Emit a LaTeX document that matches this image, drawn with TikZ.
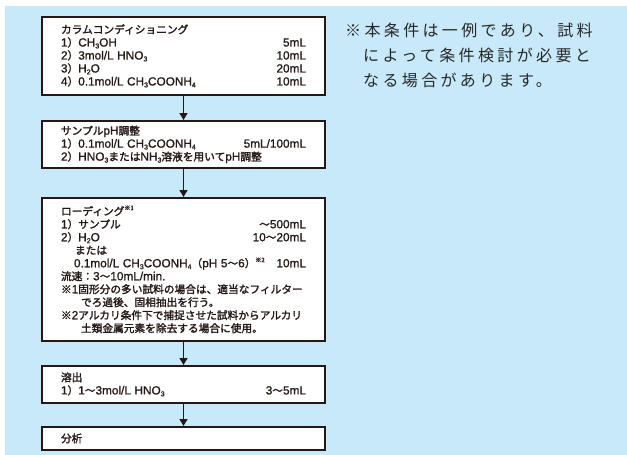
\documentclass[tikz,border=0pt]{standalone}
\usepackage{fontspec}
\setmainfont{Noto Sans CJK JP}
\newfontfamily\jpbox{Noto Sans CJK JP}[FakeBold=1.8]
\newfontfamily\ltfont{Liberation Sans}[FakeBold=1]
\usetikzlibrary{arrows.meta}
\definecolor{bgblue}{RGB}{199,233,249}
\definecolor{boxline}{RGB}{35,24,21}
\definecolor{notegray}{RGB}{40,40,40}
\newcommand{\lt}[1]{{\ltfont\fontsize{11.8pt}{13pt}\selectfont #1}}
\newcommand{\chsub}[1]{\raisebox{-0.3ex}{\fontsize{7pt}{7pt}\selectfont #1}}
\newcommand{\chsup}[1]{\raisebox{0.9ex}{\fontsize{6pt}{6pt}\selectfont #1}}
\begin{document}
\begin{tikzpicture}[x=1pt,y=-1pt,
  stepbox/.style={draw=boxline, line width=1.8pt, fill=white, text width=245pt,
    inner xsep=19pt, inner ysep=0pt, align=left, anchor=north, text=boxline,
    font=\jpbox\fontsize{10.7pt}{13pt}\selectfont},
  flow/.style={line width=1.5pt, draw=boxline, -{Triangle[width=8pt,length=7pt]}},
  note/.style={anchor=base west, text=notegray, inner sep=0pt,
    font=\fontsize{16pt}{20pt}\selectfont\addfontfeature{LetterSpace=21}}]
\useasboundingbox (0,0) rectangle (627,455);
\fill[bgblue] (5,6) rectangle (627,455);

\node[stepbox, minimum height=78pt] (b1) at (183.5,16) {%
カラムコンディショニング\\
\lt{1}）\lt{CH\chsub{3}OH}\hfill\lt{5mL}\\
\lt{2}）\lt{3mol/L HNO\chsub{3}}\hfill\lt{10mL}\\
\lt{3}）\lt{H\chsub{2}O}\hfill\lt{20mL}\\
\lt{4}）\lt{0.1mol/L CH\chsub{3}COONH\chsub{4}}\hfill\lt{10mL}};

\node[stepbox, minimum height=47pt] (b2) at (183.5,120) {%
サンプル\lt{pH}調整\\
\lt{1}）\lt{0.1mol/L CH\chsub{3}COONH\chsub{4}}\hfill\lt{5mL/100mL}\\
\lt{2}）\lt{HNO\chsub{3}}または\lt{NH\chsub{3}}溶液を用いて\lt{pH}調整};

\node[stepbox, minimum height=143pt] (b3) at (183.5,197) {%
ローディング\chsup{※1}\\
\lt{1}）サンプル\hfill ～\lt{500mL}\\
\lt{2}）\lt{H\chsub{2}O}\hfill\lt{10}～\lt{20mL}\\
\hspace*{14pt}または\\
\hspace*{13pt}\lt{0.1mol/L CH\chsub{3}COONH\chsub{4}}（\lt{pH 5}～\lt{6}）\chsup{※2}\hfill\lt{10mL}\\
流速：\lt{3}～\lt{10mL/min.}\\
※\lt{1}固形分の多い試料の場合は、適当なフィルター\\
\hspace*{20pt}でろ過後、固相抽出を行う。\\
※\lt{2}アルカリ条件下で捕捉させた試料からアルカリ\\
\hspace*{20pt}土類金属元素を除去する場合に使用。};

\node[stepbox, minimum height=37pt] (b4) at (183.5,365) {%
溶出\\
\lt{1}）\lt{1}～\lt{3mol/L HNO\chsub{3}}\hfill\lt{3}～\lt{5mL}};

\node[stepbox, minimum height=23pt] (b5) at (183.5,426) {分析};

\draw[flow] (b1.south) -- (b2.north);
\draw[flow] (b2.south) -- (b3.north);
\draw[flow] (b3.south) -- (b4.north);
\draw[flow] (b4.south) -- (b5.north);

\node[note] (n1) at (345,36) {※本条件は一例であり、試料};
\node[note] (n2) at (363,61) {によって条件検討が必要と};
\node[note] (n3) at (363,86) {なる場合があります。};
\end{tikzpicture}
\end{document}
